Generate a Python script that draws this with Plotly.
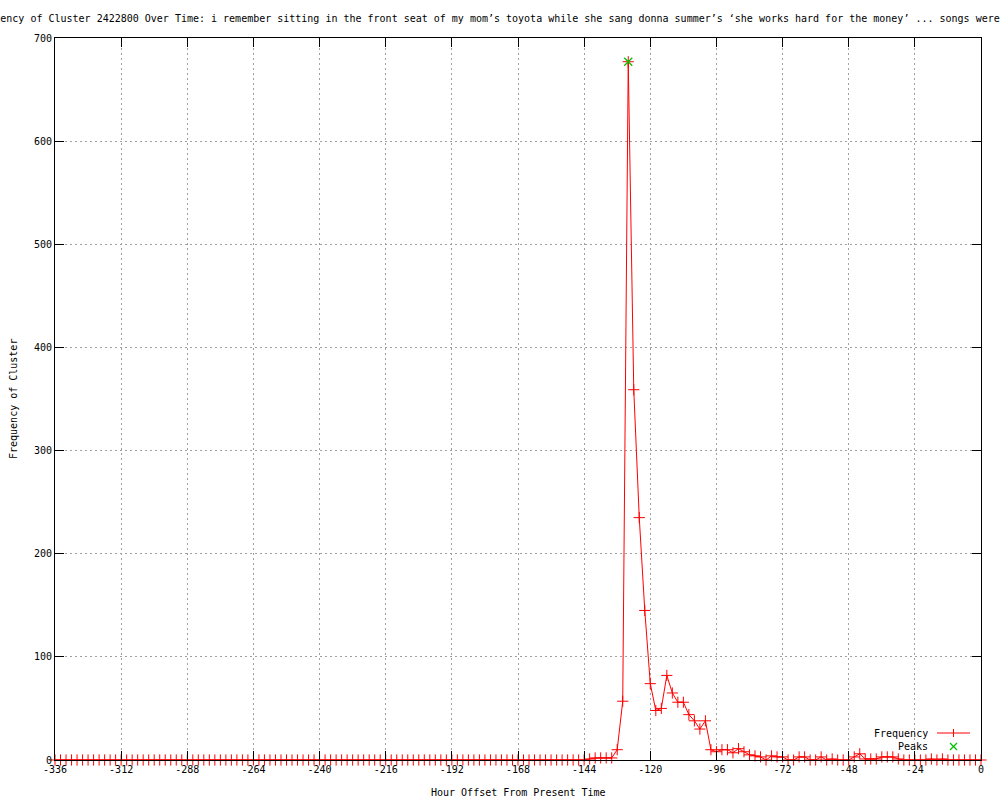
import plotly.graph_objects as go

# ---- data ----
hours = list(range(-336, 1, 2))  # hourly offsets sampled every 2 hours
frequency = [
    # -336 .. -144 (97 values)
    0, 0, 0, 0, 0, 0, 0, 0, 0, 0, 0, 0, 0, 0, 0, 0, 0, 0, 0, 0,
    0, 0, 0, 0, 0, 0, 0, 0, 0, 0, 0, 0, 0, 0, 0, 0, 0, 0, 0, 0,
    0, 0, 0, 0, 0, 0, 0, 0, 0, 0, 0, 0, 0, 0, 0, 0, 0, 0, 0, 0,
    0, 0, 0, 0, 0, 0, 0, 0, 0, 0, 0, 0, 0, 0, 0, 0, 0, 0, 0, 0,
    0, 0, 0, 0, 0, 0, 0, 0, 0, 0, 0, 0, 0, 0, 0, 0, 0,
    # -142 .. -96
    1, 2, 2, 2, 2, 10, 57, 677, 359, 235, 145, 74, 48, 50, 82, 65,
    56, 56, 44, 38, 30, 38, 10, 8,
    # -94 .. -48
    10, 10, 7, 11, 8, 5, 4, 3, 0, 4, 3, 3, 0, 0, 3, 3, 0, 0, 3, 0,
    1, 0, 0, 0,
    # -46 .. 0
    3, 6, 1, 1, 1, 3, 3, 3, 1, 0, 0, 0, 0, 0, 1, 0, 1, 0, 0, 0, 0,
    0, 0, 0,
]
peak_hours = [-128]
peak_values = [677]

x_tick_values = [-336, -312, -288, -264, -240, -216, -192, -168, -144,
                 -120, -96, -72, -48, -24, 0]
x_tick_labels = ["-336", "-312", "-288", "-264", "-240", "-216", "-192",
                 "-168", "-144", "-120", "-96", "-72", "-48", "-24", "0"]
y_tick_values = [0, 100, 200, 300, 400, 500, 600, 700]

title_text = ("Frequency of Cluster 2422800 Over Time: i remember sitting in the "
              "front seat of my mom\u2019s toyota while she sang donna summer\u2019s "
              "\u2018she works hard for the money\u2019 ... songs were just")

FONT = "DejaVu Sans Mono"
RED = "#ff0000"
GREEN = "#00c000"

fig = go.Figure()
fig.add_trace(go.Scatter(
    x=hours, y=frequency, mode="lines+markers", name="Frequency",
    line=dict(color=RED, width=1),
    marker=dict(symbol="cross-thin", size=8, color=RED,
                line=dict(color=RED, width=1)),
    cliponaxis=False, showlegend=False,
))
fig.add_trace(go.Scatter(
    x=peak_hours, y=peak_values, mode="markers", name="Peaks",
    marker=dict(symbol="x-thin", size=8, color=GREEN,
                line=dict(color=GREEN, width=1.3)),
    cliponaxis=False, showlegend=False,
))

L, R, T, B = 55, 19, 38, 40
W, H = 1000, 800
pw, ph = W - L - R, H - T - B


def px(xp):
    return (xp - L) / pw


def py(yp):
    return (H - B - yp) / ph


axis_common = dict(
    showline=True, linecolor="black", linewidth=1, mirror="allticks",
    ticks="inside", ticklen=9, tickcolor="black", tickwidth=1,
    showgrid=True, gridcolor="#a0a0a0", gridwidth=1, griddash="2px,3px",
    zeroline=False, tickfont=dict(family=FONT, size=10, color="black"),
)

fig.update_xaxes(range=[-336, 0], tickmode="array", tickvals=x_tick_values,
                 ticktext=x_tick_labels, **axis_common)
fig.update_yaxes(range=[0, 700], tickmode="array", tickvals=y_tick_values,
                 **axis_common)

# legend drawn gnuplot-style (text left, sample right)
shapes = [
    dict(type="line", xref="paper", yref="paper", x0=px(937), x1=px(970),
         y0=py(733), y1=py(733), line=dict(color=RED, width=1)),
    dict(type="line", xref="paper", yref="paper", x0=px(953.5), x1=px(953.5),
         y0=py(729), y1=py(737), line=dict(color=RED, width=1)),
    dict(type="line", xref="paper", yref="paper", x0=px(950), x1=px(957),
         y0=py(743), y1=py(750), line=dict(color=GREEN, width=1.3)),
    dict(type="line", xref="paper", yref="paper", x0=px(950), x1=px(957),
         y0=py(750), y1=py(743), line=dict(color=GREEN, width=1.3)),
]

annotations = [
    dict(text="Frequency", xref="paper", yref="paper", x=px(930), y=py(733),
         xanchor="right", yanchor="middle", showarrow=False,
         font=dict(family=FONT, size=10, color="black")),
    dict(text="Peaks", xref="paper", yref="paper", x=px(930), y=py(746),
         xanchor="right", yanchor="middle", showarrow=False,
         font=dict(family=FONT, size=10, color="black")),
    dict(text="Hour Offset From Present Time", xref="paper", yref="paper",
         x=0.5, y=py(792), xanchor="center", yanchor="middle", showarrow=False,
         font=dict(family=FONT, size=10, color="black")),
    dict(text="Frequency of Cluster", xref="paper", yref="paper",
         x=px(13), y=0.5, xanchor="center", yanchor="middle", showarrow=False,
         textangle=-90, font=dict(family=FONT, size=10, color="black")),
]

fig.update_layout(
    width=W, height=H, autosize=False,
    margin=dict(l=L, r=R, t=T, b=B),
    paper_bgcolor="white", plot_bgcolor="white",
    title=dict(text=title_text, x=0.5, xref="container", xanchor="center",
               y=1 - 18 / H, yref="container", yanchor="middle",
               font=dict(family=FONT, size=10, color="black")),
    shapes=shapes, annotations=annotations,
    showlegend=False,
)

fig.write_html(
    "out.html",
    config={"displayModeBar": False},
    post_script="document.body.style.margin='0';document.body.style.overflow='hidden';",
)
